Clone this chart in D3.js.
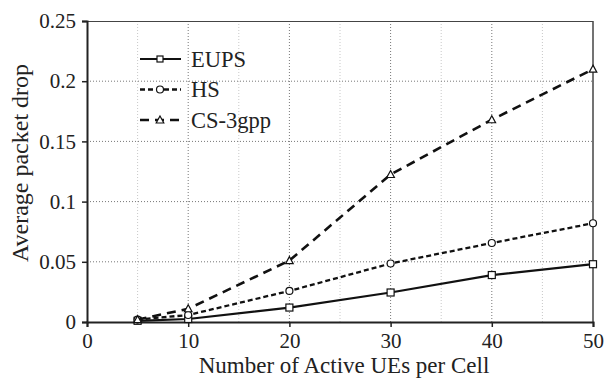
<!DOCTYPE html>
<html>
<head>
<meta charset="utf-8">
<script src="https://cdn.jsdelivr.net/npm/d3@7"></script>
<style>
  body { margin: 0; background: #fff; }
</style>
</head>
<body>
<div id="chart"></div>
<script>
// data
var usersPerCell = [5, 10, 20, 30, 40, 50];
var eupsDrop = [0.001, 0.0025, 0.012, 0.0245, 0.039, 0.048];
var hsDrop = [0.002, 0.0058, 0.0258, 0.0486, 0.0656, 0.082];
var cs3gppDrop = [0.002, 0.011, 0.051, 0.1225, 0.168, 0.21];
var seriesNames = ["EUPS", "HS", "CS-3gpp"];
var xTicks = [0, 10, 20, 30, 40, 50];
var xMinorTicks = [5, 15, 25, 35, 45];
var yTicks = [0, 0.05, 0.1, 0.15, 0.2, 0.25];

var FONT = "'Liberation Serif', 'Times New Roman', Times, serif";
var W = 604, H = 380;
var margin = { top: 21, right: 11, bottom: 58, left: 87 };
var iw = W - margin.left - margin.right, ih = H - margin.top - margin.bottom;

var svg = d3.select('#chart').append('svg').attr('width', W).attr('height', H)
  .style('font-family', FONT);
var g = svg.append('g').attr('transform', 'translate(' + margin.left + ',' + margin.top + ')');

var x = d3.scaleLinear().domain([0, 50]).range([0, iw]);
var y = d3.scaleLinear().domain([0, 0.25]).range([ih, 0]);

// grid
g.selectAll('.minor').data(xMinorTicks).join('line')
  .attr('x1', function(d){ return x(d); }).attr('x2', function(d){ return x(d); })
  .attr('y1', 0).attr('y2', ih)
  .attr('stroke', '#c8c8c8').attr('stroke-width', 1).attr('stroke-dasharray', '1,2');
g.selectAll('.vgrid').data(xTicks.slice(1, -1)).join('line')
  .attr('x1', function(d){ return x(d); }).attr('x2', function(d){ return x(d); })
  .attr('y1', 0).attr('y2', ih)
  .attr('stroke', '#777').attr('stroke-width', 1).attr('stroke-dasharray', '1,2');
g.selectAll('.hgrid').data(yTicks.slice(1, -1)).join('line')
  .attr('x1', 0).attr('x2', iw)
  .attr('y1', function(d){ return y(d); }).attr('y2', function(d){ return y(d); })
  .attr('stroke', '#777').attr('stroke-width', 1).attr('stroke-dasharray', '1,2');

// frame top / right
g.append('line').attr('x1', 0).attr('x2', iw).attr('y1', 0.5).attr('y2', 0.5).attr('stroke', '#444').attr('stroke-width', 1.2);
g.append('line').attr('x1', iw).attr('x2', iw).attr('y1', 0).attr('y2', ih).attr('stroke', '#444').attr('stroke-width', 1.5);

// axes
var xAxis = g.append('g').attr('transform', 'translate(0,' + ih + ')')
  .call(d3.axisBottom(x).tickValues(xTicks).tickSize(5).tickPadding(4).tickFormat(d3.format('d')));
var yAxis = g.append('g')
  .call(d3.axisLeft(y).tickValues(yTicks).tickSize(5).tickPadding(6).tickFormat(function(d){ return d === 0 ? '0' : String(+d.toFixed(2)); }));
[xAxis, yAxis].forEach(function(a){
  a.attr('font-family', FONT);
  a.select('.domain').attr('stroke', '#222').attr('stroke-width', 2);
  a.selectAll('.tick line').attr('stroke', '#222').attr('stroke-width', 1.5);
  a.selectAll('.tick text').attr('font-size', '21px').attr('fill', '#222');
});
xAxis.selectAll('.tick text').attr('y', 26).attr('dy', 0);

// series
var series = [
  { name: seriesNames[0], values: eupsDrop, dash: null, width: 2.2, marker: 'square' },
  { name: seriesNames[1], values: hsDrop, dash: '5,3', width: 2.3, marker: 'circle' },
  { name: seriesNames[2], values: cs3gppDrop, dash: '9,6', width: 2.6, marker: 'triangle' }
];

var line = d3.line().x(function(d){ return x(d[0]); }).y(function(d){ return y(d[1]); });

function drawMarker(sel, type) {
  if (type === 'square') {
    sel.append('rect').attr('x', -3.5).attr('y', -3.5).attr('width', 7).attr('height', 7);
  } else if (type === 'circle') {
    sel.append('circle').attr('r', 3.5);
  } else {
    sel.append('path').attr('d', 'M0,-4L3.8,3L-3.8,3Z');
  }
  sel.selectAll('rect,circle,path').attr('fill', '#fff').attr('stroke', '#111').attr('stroke-width', 1.2);
}

series.forEach(function(s){
  var pts = usersPerCell.map(function(u, i){ return [u, s.values[i]]; });
  g.append('path').datum(pts).attr('d', line)
    .attr('fill', 'none').attr('stroke', '#111').attr('stroke-width', s.width)
    .attr('stroke-dasharray', s.dash);
  g.selectAll(null).data(pts).join('g')
    .attr('transform', function(d){ return 'translate(' + x(d[0]) + ',' + y(d[1]) + ')'; })
    .each(function(){ drawMarker(d3.select(this), s.marker); });
});

// legend
var legend = svg.append('g').attr('transform', 'translate(140,59)');
series.forEach(function(s, i){
  var row = legend.append('g').attr('transform', 'translate(0,' + (i * 30.5) + ')');
  row.append('line').attr('x1', 0).attr('x2', 41).attr('y1', 0).attr('y2', 0)
    .attr('stroke', '#111').attr('stroke-width', s.width).attr('stroke-dasharray', s.dash);
  var m = row.append('g').attr('transform', 'translate(20,0)');
  drawMarker(m, s.marker);
  m.selectAll('rect').attr('x', -3).attr('y', -3).attr('width', 6).attr('height', 6);
  row.append('text').attr('x', 51).attr('y', 7.5).attr('font-size', '22.5px').attr('fill', '#222').text(s.name);
});

// axis titles
svg.append('text').attr('x', 344).attr('y', 373).attr('text-anchor', 'middle')
  .attr('font-size', '23px').attr('fill', '#222').text('Number of Active UEs per Cell');
svg.append('text').attr('transform', 'translate(28,163) rotate(-90)').attr('text-anchor', 'middle')
  .attr('font-size', '24px').attr('fill', '#222').text('Average packet drop');
</script>
</body>
</html>
